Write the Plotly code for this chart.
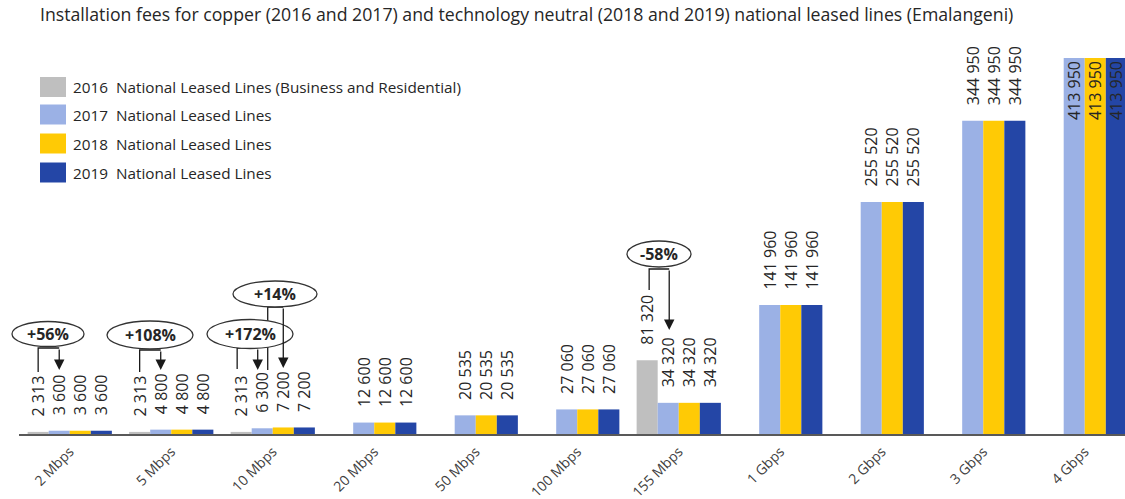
import plotly.graph_objects as go

# ---- data -------------------------------------------------------------
categories = ["2 Mbps", "5 Mbps", "10 Mbps", "20 Mbps", "50 Mbps", "100 Mbps",
              "155 Mbps", "1 Gbps", "2 Gbps", "3 Gbps", "4 Gbps"]

fees_2016 = [2313, 2313, 2313, None, None, None, 81320, None, None, None, None]
fees_2017 = [3600, 4800, 6300, 12600, 20535, 27060, 34320, 141960, 255520, 344950, 413950]
fees_2018 = [3600, 4800, 7200, 12600, 20535, 27060, 34320, 141960, 255520, 344950, 413950]
fees_2019 = [3600, 4800, 7200, 12600, 20535, 27060, 34320, 141960, 255520, 344950, 413950]

series_names = [
    "2016  National Leased Lines (Business and Residential)",
    "2017  National Leased Lines",
    "2018  National Leased Lines",
    "2019  National Leased Lines",
]
change_labels = ["+56%", "+108%", "+172%", "+14%", "-58%"]

title_text = ("Installation fees for copper (2016 and 2017) and technology neutral "
              "(2018 and 2019) national leased lines (Emalangeni)")

# ---- styling ----------------------------------------------------------
colors = ["#BFBFBF", "#9BB1E5", "#FFCA05", "#2446A6"]
FONT = "Open Sans"
TXT = "#262626"

W, H = 1125, 499
PLOT_L, PLOT_R, PLOT_T, PLOT_B = 19, 1125, 58, 434
CAT_PX = 101.5                       # pixel width of one category slot
BARGAP = 0.17
N_SERIES = 4
X_RANGE = [-0.5, -0.5 + (PLOT_R - PLOT_L) / CAT_PX]

all_series = [fees_2016, fees_2017, fees_2018, fees_2019]
Y_MAX = max(v for s in all_series for v in s if v is not None)


def fmt(v):
    return f"{v:,}".replace(",", " ")


def px_x(px):
    return (px - PLOT_L) / (PLOT_R - PLOT_L)


def px_y(py):
    return (PLOT_B - py) / (PLOT_B - PLOT_T)


def slot_px(cat, slot, nudge=0.0):
    """Pixel x of the centre of bar `slot` within category `cat`."""
    bw = (1 - BARGAP) / N_SERIES
    xd = cat + (slot - (N_SERIES - 1) / 2) * bw
    return PLOT_L + (xd - X_RANGE[0]) * CAT_PX + nudge


fig = go.Figure()

PAD = "\u00a0\u00a0\u00a0"
LBL_SIZE = 16
for name, vals, col in zip(series_names, all_series, colors):
    texts, positions = [], []
    for v in vals:
        if v is None:
            texts.append("")
            positions.append("none")
        elif v >= Y_MAX:
            texts.append(fmt(v))
            positions.append("inside")
        else:
            texts.append(PAD + fmt(v))
            positions.append("outside")
    fig.add_trace(go.Bar(
        x=categories, y=vals, name=name, marker=dict(color=col, line=dict(width=0)),
        text=texts, textposition=positions, texttemplate="%{text}",
        textangle=-90, insidetextanchor="end", constraintext="none",
        textfont=dict(family=FONT, size=LBL_SIZE, color=TXT),
        insidetextfont=dict(family=FONT, size=LBL_SIZE, color=TXT),
        outsidetextfont=dict(family=FONT, size=LBL_SIZE, color=TXT),
        cliponaxis=False, showlegend=False,
    ))

shapes, annotations = [], []

# ---- legend drawn as swatches + labels --------------------------------
leg_rows = [87, 114.5, 143.5, 172.5]
for name, col, cy in zip(series_names, colors, leg_rows):
    shapes.append(dict(type="rect", xref="paper", yref="paper",
                       x0=px_x(40), x1=px_x(66), y0=px_y(cy + 10), y1=px_y(cy - 10),
                       fillcolor=col, line=dict(width=0), layer="above"))
    annotations.append(dict(xref="paper", yref="paper", x=px_x(71), y=px_y(cy),
                            xanchor="left", yanchor="middle", showarrow=False,
                            text=name, font=dict(family=FONT, size=15.3, color=TXT)))

# ---- percentage-change callouts ---------------------------------------
# (label, cat, from-slot, from-nudge, to-slot, to-nudge, y_low, y_elbow, y_tip, ellipse cx, cy, rx, ry)
callouts = [
    (change_labels[0], 0, 0, 0, 1, 0, 372, 348, 370, 48, 334, 36, 12.5),
    (change_labels[1], 1, 0, 0, 1, 0, 372, 350, 370, 150, 335, 43, 14),
    (change_labels[2], 2, 0, -4, 1, -4.5, 369, 348, 370, 250, 334, 43, 14.5),
    (change_labels[3], 2, 1, 5.5, 2, 0, 370, 307, 368, 275, 294, 42, 13),
    (change_labels[4], 6, 0, 2, 1, 1, 290, 269, 330, 659, 254, 32, 13),
]
LINE = "#1a1a1a"
for lab, cat, s0, n0, s1, n1, ylow, yel, ytip, ecx, ecy, erx, ery in callouts:
    xa = slot_px(cat, s0, n0)
    xb = slot_px(cat, s1, n1)
    shapes.append(dict(type="path", xref="paper", yref="paper", layer="above",
                       path=(f"M{px_x(xa)},{px_y(ylow)} L{px_x(xa)},{px_y(yel)} "
                             f"L{px_x(xb)},{px_y(yel)}"),
                       line=dict(color=LINE, width=1.3)))
    annotations.append(dict(xref="paper", yref="paper", x=px_x(xb), y=px_y(ytip),
                            ax=0, ay=-(ytip - yel), text="", showarrow=True,
                            arrowhead=2, arrowsize=1.6, arrowwidth=1.3,
                            arrowcolor=LINE, standoff=0))

for lab, cat, s0, n0, s1, n1, ylow, yel, ytip, ecx, ecy, erx, ery in callouts:
    shapes.append(dict(type="circle", xref="paper", yref="paper", layer="above",
                       x0=px_x(ecx - erx), x1=px_x(ecx + erx),
                       y0=px_y(ecy + ery), y1=px_y(ecy - ery),
                       fillcolor="white", line=dict(color="#333333", width=1.3)))
    annotations.append(dict(xref="paper", yref="paper", x=px_x(ecx), y=px_y(ecy),
                            xanchor="center", yanchor="middle", showarrow=False,
                            text=f"<b>{lab}</b>",
                            font=dict(family=FONT, size=16, color=TXT)))

fig.update_layout(
    width=W, height=H,
    margin=dict(l=PLOT_L, r=W - PLOT_R, t=PLOT_T, b=H - PLOT_B, autoexpand=False),
    paper_bgcolor="white", plot_bgcolor="white",
    barmode="group", bargap=BARGAP, bargroupgap=0,
    title=dict(text=title_text, x=px_x(40), xanchor="left", xref="paper",
               y=1 - 15 / H, yref="container", yanchor="middle",
               font=dict(family=FONT, size=17.7, color=TXT)),
    xaxis=dict(range=X_RANGE, showline=True, linecolor="#595959", linewidth=2,
               ticks="", tickangle=-45, showgrid=False, zeroline=False,
               ticklabelstandoff=2, automargin=False,
               tickfont=dict(family=FONT, size=14, color="#404040")),
    yaxis=dict(range=[0, Y_MAX], visible=False, showgrid=False, zeroline=False,
               automargin=False),
    shapes=shapes, annotations=annotations,
    font=dict(family=FONT, color=TXT),
)

fig.write_html("out.html")
